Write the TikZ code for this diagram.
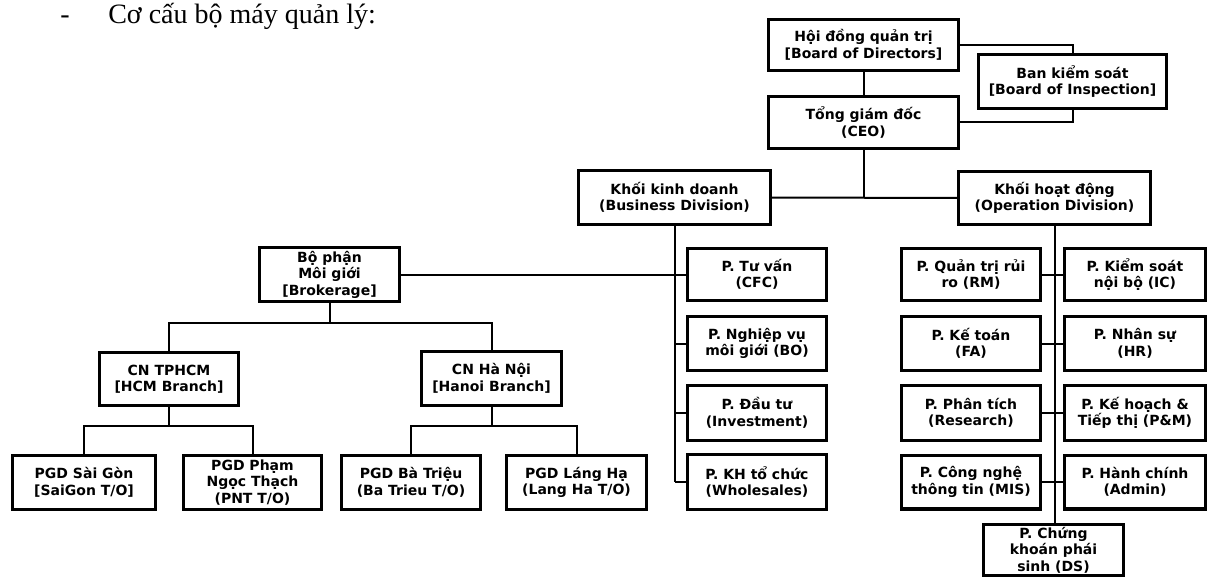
\documentclass[tikz,border=0pt]{standalone}
\usepackage{fontspec}
\setmainfont{DejaVu Sans}
\newfontfamily\titlefont{Liberation Serif}
\begin{document}
\begin{tikzpicture}[x=0.75pt,y=-0.75pt,
  box/.style={draw, line width=2.4pt, align=center, inner sep=1pt,
    font=\fontsize{10.5}{12.4}\selectfont\bfseries},
  sz/.style 2 args={minimum width=#1*0.75pt-2.4pt, minimum height=#2*0.75pt-2.4pt},
  link/.style={line width=1.5pt},
  ttl/.style={anchor=base west, inner sep=0pt, font=\titlefont\fontsize{21}{24}\selectfont}]
\useasboundingbox (0,0) rectangle (1208,585);
\fill[white] (0,0) rectangle (1208,585);

% title
\node[ttl] (dash) at (60,24) {-};
\node[ttl] (title) at (108,24) {Cơ cấu bộ máy quản lý:};

% top
\node[box, sz={193}{54}] (hdqt) at (863.5,45) {Hội đồng quản trị\\{[Board of Directors]}};
\node[box, sz={191}{57}] (bks) at (1072.5,81.5) {Ban kiểm soát\\{[Board of Inspection]}};
\node[box, sz={193}{55}] (tgd) at (863.5,122.5) {Tổng giám đốc\\(CEO)};
\node[box, sz={195}{57}] (kkd) at (674.5,197.5) {Khối kinh doanh\\(Business Division)};
\node[box, sz={195}{56}] (khd) at (1054.5,198) {Khối hoạt động\\(Operation Division)};

% business column
\node[box, sz={143}{57}] (mg) at (329.5,274.5) {Bộ phận\\Môi giới\\{[Brokerage]}};
\node[box, sz={142}{55}] (cfc) at (757,274.5) {P. Tư vấn\\(CFC)};
\node[box, sz={142}{57}] (bo) at (757,343.5) {P. Nghiệp vụ\\môi giới (BO)};
\node[box, sz={142}{58}] (inv) at (757,413) {P. Đầu tư\\(Investment)};
\node[box, sz={142}{58}] (whs) at (757,482) {P. KH tổ chức\\(Wholesales)};

% operation columns
\node[box, sz={142}{55}] (rm) at (971,274.5) {P. Quản trị rủi\\ro (RM)};
\node[box, sz={144}{55}] (ic) at (1135,274.5) {P. Kiểm soát\\nội bộ (IC)};
\node[box, sz={142}{57}] (fa) at (971,343.5) {P. Kế toán\\(FA)};
\node[box, sz={144}{57}] (hr) at (1135,343.5) {P. Nhân sự\\(HR)};
\node[box, sz={142}{58}] (res) at (971,413) {P. Phân tích\\(Research)};
\node[box, sz={144}{58}] (pm) at (1135,413) {P. Kế hoạch \&\\Tiếp thị (P\&M)};
\node[box, sz={142}{57}] (mis) at (971,482) {P. Công nghệ\\thông tin (MIS)};
\node[box, sz={144}{57}] (adm) at (1135,482) {P. Hành chính\\(Admin)};
\node[box, sz={143}{54}] (ds) at (1053.5,550) {P. Chứng\\khoán phái\\sinh (DS)};

% branches
\node[box, sz={142}{56}] (hcm) at (169,379) {CN TPHCM\\{[HCM Branch]}};
\node[box, sz={143}{57}] (hn) at (491.5,378.5) {CN Hà Nội\\{[Hanoi Branch]}};
\node[box, sz={146}{57}] (sg) at (84,482.5) {PGD Sài Gòn\\{[SaiGon T/O]}};
\node[box, sz={141}{57}] (pnt) at (252.5,482.5) {PGD Phạm\\Ngọc Thạch\\(PNT T/O)};
\node[box, sz={142}{57}] (bt) at (411,482.5) {PGD Bà Triệu\\(Ba Trieu T/O)};
\node[box, sz={143}{57}] (lh) at (576.5,482.5) {PGD Láng Hạ\\(Lang Ha T/O)};

% junction points
\coordinate (topj) at (863.5,197.5);
\coordinate (mgj) at (329.5,323);
\coordinate (hcmj) at (169,426);
\coordinate (hnj) at (491.5,426);

% connectors top
\draw[link] (hdqt) -- (tgd);
\draw[link] (hdqt.east) -| (bks.north);
\draw[link] (bks.south) |- (tgd.east);
\draw[link] (tgd.south) -- (topj);
\draw[link] (kkd.east) -- (khd.west);

% business
\draw[link] (kkd.south) -- (kkd.south |- whs.west);
\foreach \n in {cfc,bo,inv,whs} \draw[link] (kkd.south |- \n.west) -- (\n.west);
\draw[link] (mg.east) -- (cfc.west);
\draw[link] (mg.south) -- (mgj);
\draw[link] (hcm.north) |- (mgj);
\draw[link] (hn.north) |- (mgj);
\draw[link] (hcm.south) -- (hcmj);
\draw[link] (sg.north) |- (hcmj);
\draw[link] (pnt.north) |- (hcmj);
\draw[link] (hn.south) -- (hnj);
\draw[link] (bt.north) |- (hnj);
\draw[link] (lh.north) |- (hnj);

% operation
\draw[link] (khd.south) -- (khd.south |- ds.north);
\draw[link] (rm.east) -- (ic.west);
\draw[link] (fa.east) -- (hr.west);
\draw[link] (res.east) -- (pm.west);
\draw[link] (mis.east) -- (adm.west);
\end{tikzpicture}
\end{document}
